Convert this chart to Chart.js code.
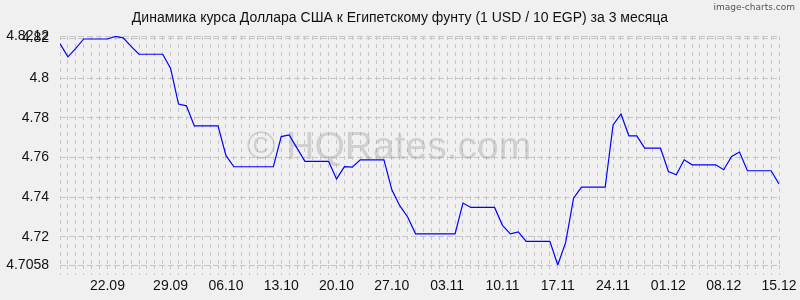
<!DOCTYPE html>
<html>
<head>
<meta charset="utf-8">
<script src="https://cdn.jsdelivr.net/npm/chart.js@4.4.0/dist/chart.umd.min.js"></script>
<style>
html, body { margin: 0; padding: 0; background: #f0f0f0; }
#wrap { width: 800px; height: 300px; }
</style>
</head>
<body>
<div id="wrap"><canvas id="rateChart" width="800" height="300"></canvas></div>
<script>
// ===========================================
// DATA
// ===========================================

const titleText = "Динамика курса Доллара США к Египетскому фунту (1 USD / 10 EGP) за 3 месяца";

// daily USD/EGP rate, 15.09 .. 15.12
const values = [
    4.8174, 4.8107, 4.8150, 4.8197, 4.8197, 4.8197, 4.8197, 4.8210, 4.8203, 4.8160,
    4.8120, 4.8120, 4.8120, 4.8120, 4.8049, 4.7869, 4.7860, 4.7759, 4.7759, 4.7759,
    4.7759, 4.7610, 4.7553, 4.7553, 4.7553, 4.7553, 4.7553, 4.7553, 4.7705, 4.7714,
    4.7647, 4.7580, 4.7580, 4.7580, 4.7580, 4.7492, 4.7554, 4.7551, 4.7588, 4.7588,
    4.7588, 4.7588, 4.7437, 4.7357, 4.7300, 4.7215, 4.7215, 4.7215, 4.7215, 4.7215,
    4.7215, 4.7370, 4.7348, 4.7348, 4.7348, 4.7348, 4.7258, 4.7215, 4.7225, 4.7177,
    4.7177, 4.7177, 4.7177, 4.7058, 4.7172, 4.7395, 4.7450, 4.7450, 4.7450, 4.7450,
    4.7764, 4.7819, 4.7709, 4.7709, 4.7647, 4.7647, 4.7647, 4.7529, 4.7513, 4.7588,
    4.7563, 4.7563, 4.7563, 4.7563, 4.7538, 4.7605, 4.7627, 4.7533, 4.7533, 4.7533,
    4.7533, 4.7466
];

// x tick labels and the day index they sit on
const tickText = ["22.09", "29.09", "06.10", "13.10", "20.10", "27.10", "03.11",
                  "10.11", "17.11", "24.11", "01.12", "08.12", "15.12"];
const tickPos  = [6, 14, 21, 28, 35, 42, 49, 56, 63, 70, 77, 84, 91];

// y tick values
const yTicks = [4.7058, 4.72, 4.74, 4.76, 4.78, 4.8, 4.82, 4.8212];
const yMin = 4.7058;
const yMax = 4.8212;

// ===========================================
// PLUGINS
// ===========================================

const GRID = "#c6c6c6";
const FONT = "'Liberation Sans', Arial, sans-serif";

const backdrop = {
    id: "backdrop",
    beforeDraw(chart) {
        const ctx = chart.ctx;
        ctx.save();
        ctx.fillStyle = "#f0f0f0";
        ctx.fillRect(0, 0, chart.width, chart.height);

        // title, centred on the whole canvas
        ctx.font = "14px " + FONT;
        ctx.fillStyle = "#111111";
        ctx.textAlign = "center";
        ctx.textBaseline = "middle";
        ctx.fillText(titleText, chart.width / 2, 18);
        ctx.restore();
    },
    beforeDatasetsDraw(chart) {
        const ctx = chart.ctx;
        ctx.save();
        ctx.font = "39px " + FONT;
        ctx.fillStyle = "rgba(150,150,150,0.35)";
        ctx.textAlign = "center";
        ctx.textBaseline = "middle";
        ctx.fillText("© HQRates.com", 389, 148);
        ctx.restore();
    },
    afterDraw(chart) {
        const ctx = chart.ctx;
        ctx.save();
        ctx.font = "9px 'DejaVu Sans', sans-serif";
        ctx.fillStyle = "#555555";
        ctx.textAlign = "right";
        ctx.textBaseline = "middle";
        ctx.fillText("image-charts.com", 795, 8);
        ctx.restore();
    }
};

// ===========================================
// CHART
// ===========================================

new Chart(document.getElementById("rateChart"), {

    type: "line",

    data: {
        datasets: [{
            data: values.map((v, i) => ({ x: i, y: v })),
            borderColor: "#0000ff",
            borderWidth: 1.2,
            pointRadius: 0,
            tension: 0,
            fill: false
        }]
    },

    options: {
        responsive: false,
        animation: false,
        events: [],
        layout: {
            padding: { left: 0, right: 21, top: 36, bottom: 0 }
        },
        plugins: {
            legend: { display: false },
            tooltip: { enabled: false },
            title: { display: false }
        },
        scales: {
            x: {
                type: "linear",
                min: 0,
                max: values.length - 1,
                afterBuildTicks(scale) {
                    scale.ticks = values.map((v, i) => ({ value: i }));
                },
                afterFit(scale) {
                    scale.height = 35;
                },
                ticks: {
                    autoSkip: false,
                    maxRotation: 0,
                    padding: 3,
                    color: "#111111",
                    font: { family: FONT, size: 14 },
                    callback(v) {
                        const k = tickPos.indexOf(v);
                        return k >= 0 ? tickText[k] : "";
                    }
                },
                grid: {
                    color: GRID,
                    lineWidth: 1,
                    tickLength: 10,
                    tickColor: GRID,
                    tickBorderDash: [4, 4]
                },
                border: { display: false, dash: [4, 4] }
            },
            y: {
                min: yMin,
                max: yMax,
                afterBuildTicks(scale) {
                    scale.ticks = yTicks.map(v => ({ value: v }));
                },
                afterFit(scale) {
                    scale.width = 60;
                },
                ticks: {
                    padding: 11,
                    color: "#111111",
                    font: { family: FONT, size: 14 },
                    callback(v) {
                        return String(Number(v.toFixed(4)));
                    }
                },
                grid: {
                    color: GRID,
                    lineWidth: 1,
                    drawTicks: false
                },
                border: { display: false, dash: [6, 3] }
            }
        }
    },

    plugins: [backdrop]
});
</script>
</body>
</html>
